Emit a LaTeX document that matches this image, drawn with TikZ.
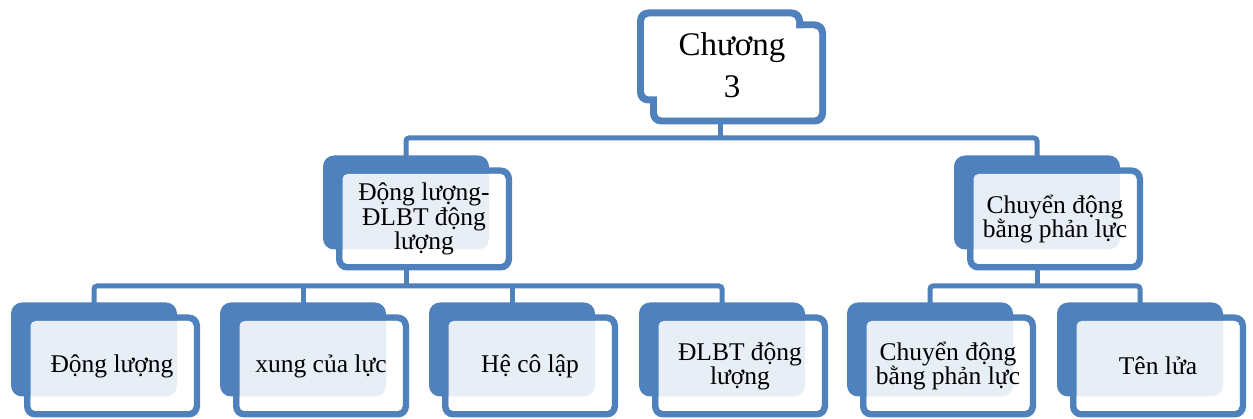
\documentclass[tikz,border=0pt]{standalone}
\usepackage{fontspec}
\setmainfont{Liberation Serif}
\usetikzlibrary{calc}
\definecolor{sablue}{HTML}{4F81BD}
\pgfdeclarelayer{conn}
\pgfdeclarelayer{bg}
\pgfsetlayers{conn,bg,main}
\tikzset{
  backnode/.style={minimum width=166pt, minimum height=94pt, inner sep=0pt, outer sep=0pt},
  frontnode/.style={minimum width=176pt, minimum height=103pt, inner sep=0pt, outer sep=0pt},
  lbl/.style={align=center, font=\fontsize{25.5}{22.5}\selectfont, text=black},
  toplbl/.style={align=center, font=\fontsize{33}{42}\selectfont, text=black},
  conn/.style={draw=sablue, line width=5pt, rounded corners=3pt},
  outerfill/.style={fill=sablue, rounded corners=11pt},
  innerfill/.style={fill=white, rounded corners=5pt},
  glassfill/.style={fill=white, fill opacity=0.87, rounded corners=5pt},
}
% filled card: name, front centre x, front centre y, text
\newcommand\filledcard[4]{%
  \node[frontnode] (#1f) at (#2,#3) {};
  \node[backnode, anchor=north west] (#1) at ([shift={(-13,-12)}]#1f.north west) {};
  \begin{pgfonlayer}{bg}
    \path[outerfill] (#1f.north west) rectangle (#1f.south east);
    \path[innerfill] ($(#1f.north west)+(6.5,6.5)$) rectangle ($(#1f.south east)+(-6.5,-6.5)$);
    \path[outerfill] (#1.north west) rectangle (#1.south east);
    \path[glassfill] ($(#1f.north west)+(6.5,6.5)$) rectangle ($(#1f.south east)+(-6.5,-6.5)$);
  \end{pgfonlayer}
  \node[lbl] at (#1f.center) {#4};
}
% outlined card (top)
\newcommand\outlinecard[4]{%
  \node[frontnode] (#1f) at (#2,#3) {};
  \node[backnode, anchor=north west] (#1) at ([shift={(-13,-12)}]#1f.north west) {};
  \begin{pgfonlayer}{bg}
    \path[outerfill] (#1f.north west) rectangle (#1f.south east);
    \path[innerfill] ($(#1f.north west)+(7,7)$) rectangle ($(#1f.south east)+(-7,-7)$);
    \path[outerfill] (#1.north west) rectangle (#1.south east);
    \path[innerfill] ($(#1.north west)+(7,7)$) rectangle ($(#1.south east)+(-7,-7)$);
    \path[innerfill] ($(#1f.north west)+(7,7)$) rectangle ($(#1f.south east)+(-7,-7)$);
  \end{pgfonlayer}
  \node[toplbl] at ($(#1f.center)+(-6,-8)$) {#4};
}
\begin{document}
\begin{tikzpicture}[x=1pt,y=-1pt]
\useasboundingbox (0,0) rectangle (1253,419);
\begin{pgfonlayer}{conn}
  \path[fill=white] (0,0) rectangle (1253,419);
\end{pgfonlayer}

\outlinecard{top}{738}{73}{Chương\\3}
\filledcard{lta}{424}{219}{Động lượng-\\ĐLBT động\\lượng}
\filledcard{ltb}{1055}{219}{Chuyển động\\bằng phản lực}
\filledcard{ba}{112}{366}{Động lượng}
\filledcard{bb}{321}{366}{xung của lực}
\filledcard{bc}{530}{366}{Hệ cô lập}
\filledcard{bd}{740}{366}{ĐLBT động\\lượng}
\filledcard{be}{948}{366}{Chuyển động\\bằng phản lực}
\filledcard{bf}{1158}{366}{Tên lửa}

\coordinate (busA) at (720,138);
\coordinate (busB) at (406,286);
\coordinate (busC) at (1035,286);

\begin{pgfonlayer}{conn}
  \draw[conn] (top.center) -- (top.center |- busA);
  \draw[conn] (lta.center) |- (busA) -| (ltb.center);
  \draw[conn] (lta.center) -- (lta.center |- busB);
  \draw[conn] (ba.center) |- (busB) -| (bd.center);
  \draw[conn] (bb.center) -- (bb.center |- busB);
  \draw[conn] (bc.center) -- (bc.center |- busB);
  \draw[conn] (ltb.center) -- (ltb.center |- busC);
  \draw[conn] (be.center) |- (busC) -| (bf.center);
\end{pgfonlayer}
\end{tikzpicture}
\end{document}
